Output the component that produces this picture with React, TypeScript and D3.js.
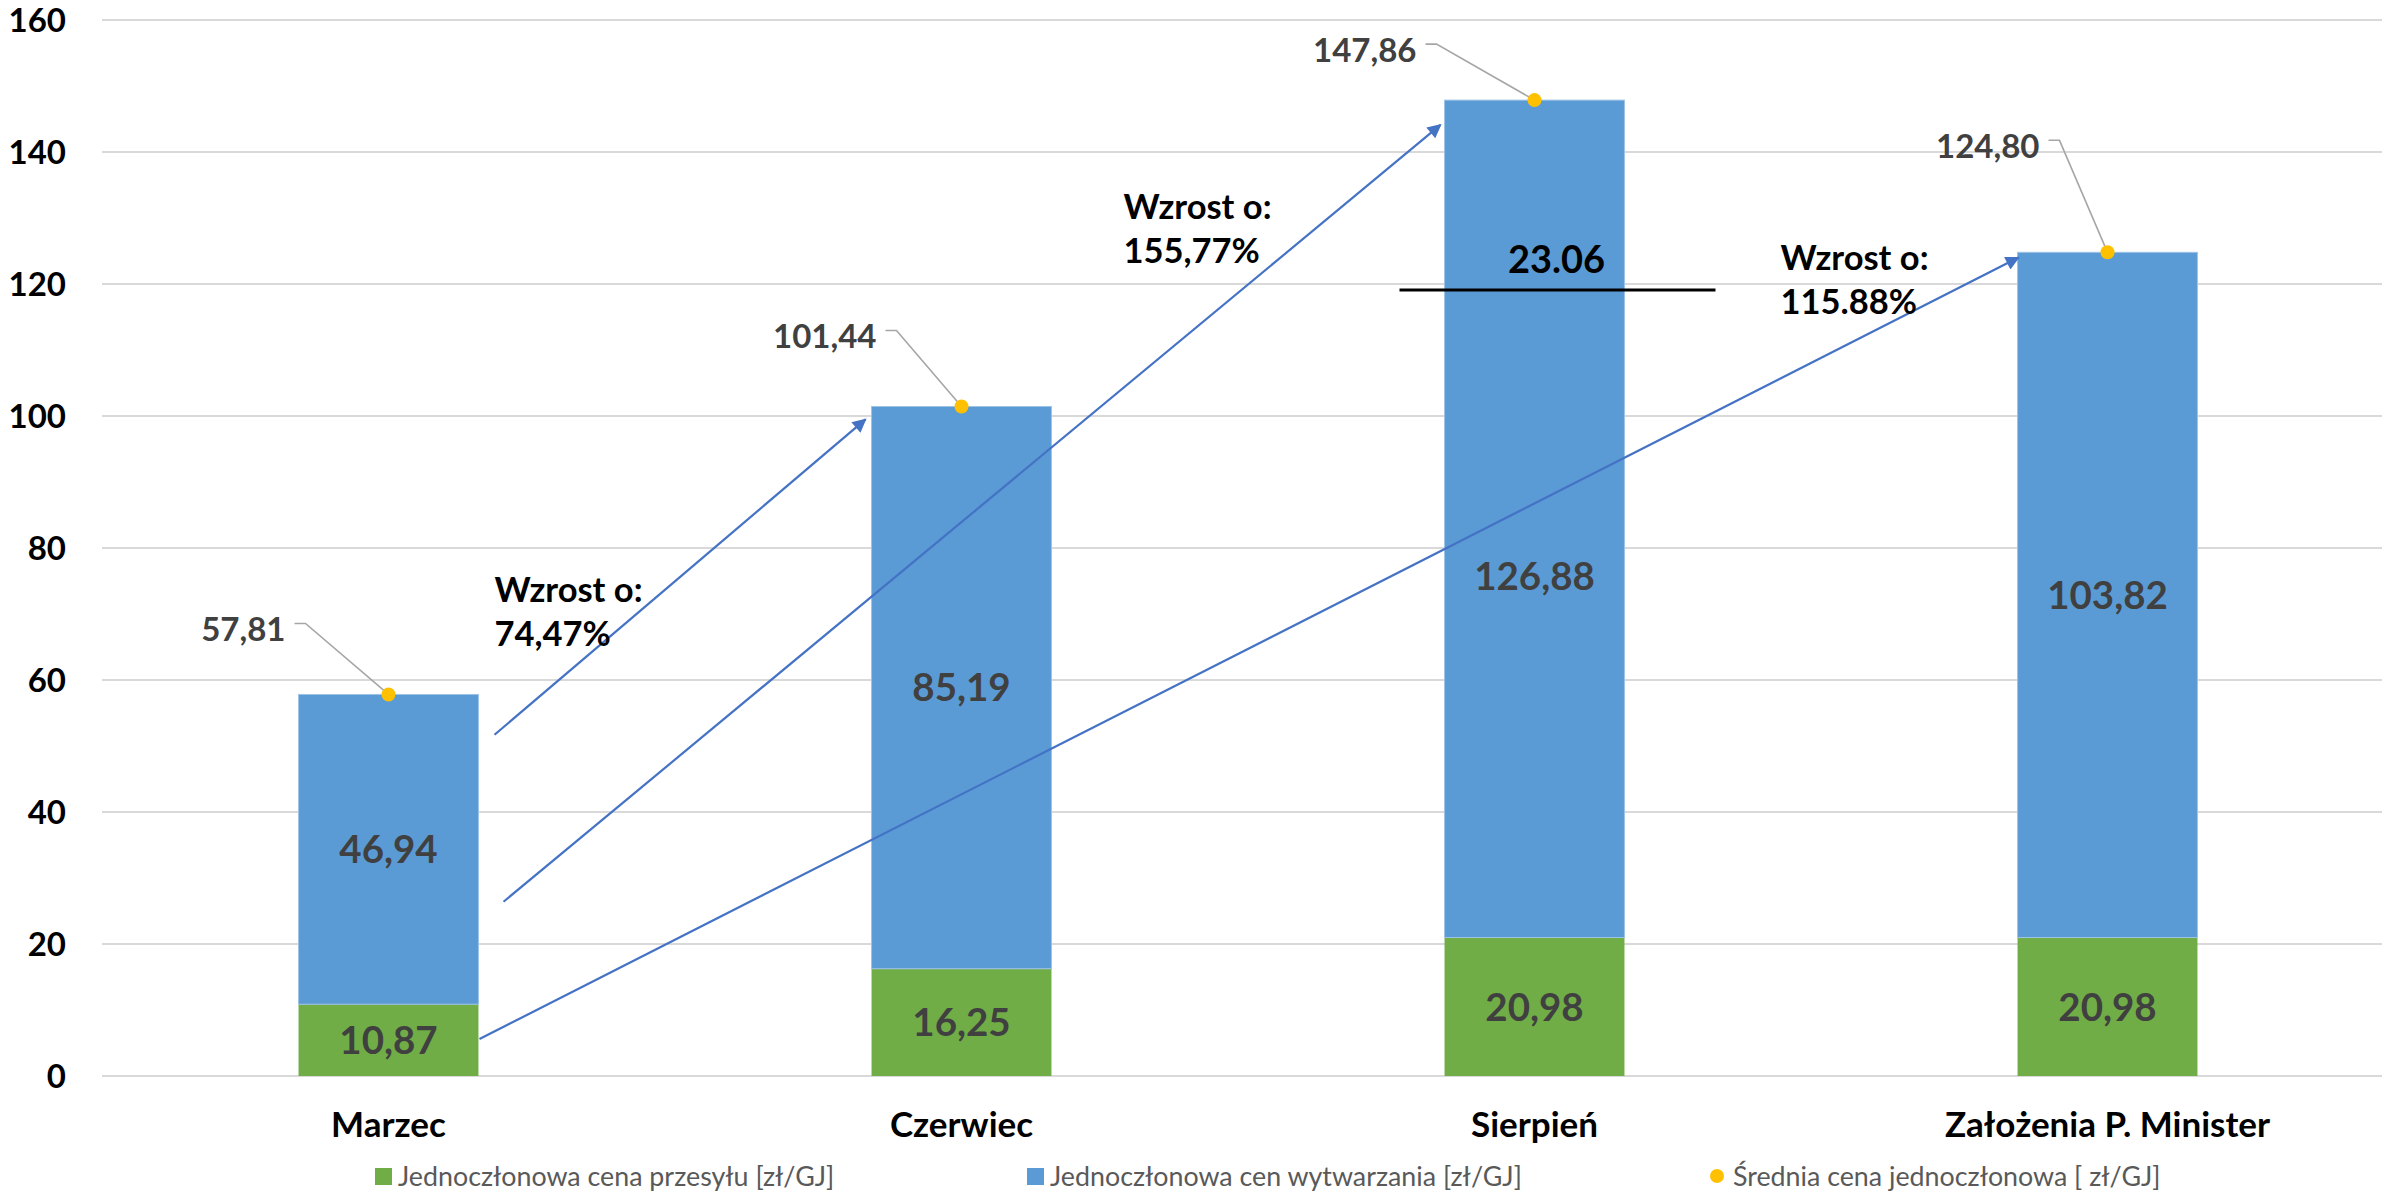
import React from "react";
import * as d3 from "d3";

const width = 2382;
const height = 1192;
const margin = { left: 102, right: -12, top: 20, bottom: 116 }; // plot runs slightly past the right edge
const font = "Lato, 'Open Sans', sans-serif";

const categories = ["Marzec", "Czerwiec", "Sierpień", "Założenia P. Minister"];
const transmission = [10.87, 16.25, 20.98, 20.98]; // green
const production = [46.94, 85.19, 126.88, 103.82]; // blue
const average = [57.81, 101.44, 147.86, 124.8]; // yellow dots
const yTicks = [0, 20, 40, 60, 80, 100, 120, 140, 160];
const legendLabels = [
  "Jednoczłonowa cena przesyłu [zł/GJ]",
  "Jednoczłonowa cen wytwarzania [zł/GJ]",
  "Średnia cena jednoczłonowa [ zł/GJ]",
];
const growthNotes = [
  { cat: 0, value: 71.8, lines: ["Wzrost o:", "74,47%"] },
  { cat: 1, value: 129.8, lines: ["Wzrost o:", "155,77%"] },
  { cat: 2, value: 122.1, lines: ["Wzrost o:", "115.88%"] },
];
const growthArrows = [
  { from: 0, fromValue: 51.7, to: 1, toValue: 99.5 },
  { from: 0, fromValue: 26.4, to: 2, toValue: 144.1 },
  { from: 0, fromValue: 5.6, to: 3, toValue: 124.0 },
];
const markText = "23.06";
const markValue = 119.1;

// manual label placement (px, relative to the dot) as in the source chart
const avgLabelOffset = [
  { dx: -103, dy: -65 },
  { dx: -85, dy: -70 },
  { dx: -118, dy: -50 },
  { dx: -68, dy: -106 },
];
const blueLabelShift = [0, 0, 57, 0]; // the Sierpień label was dragged down
const noteDx = [106, 162, 246];
const arrowDx = [
  [106, -96],
  [115, -94],
  [91, -89],
];

const colors = {
  green: "#70AD47",
  blue: "#5B9BD5",
  dot: "#FFC000",
  grid: "#D9D9D9",
  arrow: "#4472C4",
  label: "#404040",
  legend: "#595959",
};

const fmt = (v: number) => d3.format(".2f")(v).replace(".", ",");

const App = () => {
  const x = d3
    .scaleBand<string>()
    .domain(categories)
    .range([margin.left, width - margin.right])
    .paddingInner(0.686)
    .paddingOuter(0.343);
  const y = d3
    .scaleLinear()
    .domain([0, 160])
    .range([height - margin.bottom, margin.top]);
  const bw = x.bandwidth();
  const cx = (i: number) => (x(categories[i]) as number) + bw / 2;

  const legendX = [375, 1027, 1717];
  const legendY = 1176;

  return (
    <svg
      width={width}
      height={height}
      style={{ position: "absolute", left: 0, top: 0, background: "#fff" }}
      fontFamily={font}
    >
      <defs>
        <marker
          id="arrowHead"
          viewBox="0 0 10 10"
          refX="9"
          refY="5"
          markerWidth="16"
          markerHeight="14"
          markerUnits="userSpaceOnUse"
          orient="auto"
        >
          <path d="M0,0 L10,5 L0,10 z" fill={colors.arrow} />
        </marker>
      </defs>

      {/* grid + y ticks */}
      {yTicks.map((t) => (
        <g key={t}>
          <line
            x1={margin.left}
            x2={width}
            y1={y(t)}
            y2={y(t)}
            stroke={colors.grid}
            strokeWidth={2}
          />
          <text
            x={66}
            y={y(t)}
            dy="0.36em"
            textAnchor="end"
            fontSize={33}
            fontWeight="bold"
            fill="#000"
          >
            {t}
          </text>
        </g>
      ))}

      {/* stacked bars */}
      {categories.map((c, i) => (
        <g key={c}>
          <rect
            x={x(c)}
            y={y(transmission[i])}
            width={bw}
            height={y(0) - y(transmission[i])}
            fill={colors.green}
          />
          <rect
            x={x(c)}
            y={y(transmission[i] + production[i])}
            width={bw}
            height={y(transmission[i]) - y(transmission[i] + production[i])}
            fill={colors.blue}
            stroke="#9DC3E6"
            strokeWidth={1}
          />
          <text
            x={cx(i)}
            y={y(transmission[i] / 2)}
            dy="0.36em"
            textAnchor="middle"
            fontSize={38.5}
            fontWeight="bold"
            fill={colors.label}
          >
            {fmt(transmission[i])}
          </text>
          <text
            x={cx(i)}
            y={y(transmission[i] + production[i] / 2) + blueLabelShift[i]}
            dy="0.36em"
            textAnchor="middle"
            fontSize={38.5}
            fontWeight="bold"
            fill={colors.label}
          >
            {fmt(production[i])}
          </text>
          <text
            x={cx(i)}
            y={1137}
            textAnchor="middle"
            fontSize={35}
            fontWeight="bold"
            fill="#000"
          >
            {c}
          </text>
        </g>
      ))}

      {/* average dots with leader lines */}
      {average.map((v, i) => {
        const px = cx(i);
        const py = y(v);
        const o = avgLabelOffset[i];
        const ly = py + o.dy - 6;
        return (
          <g key={i}>
            <polyline
              points={`${px + o.dx + 9},${ly} ${px + o.dx + 20},${ly} ${px},${py}`}
              fill="none"
              stroke="#A6A6A6"
              strokeWidth={1.6}
            />
            <circle cx={px} cy={py} r={7} fill={colors.dot} />
            <text
              x={px + o.dx}
              y={py + o.dy}
              dy="0.36em"
              textAnchor="end"
              fontSize={33}
              fontWeight="bold"
              fill={colors.label}
            >
              {fmt(v)}
            </text>
          </g>
        );
      })}

      {/* growth arrows */}
      {growthArrows.map((a, i) => (
        <line
          key={i}
          x1={cx(a.from) + arrowDx[i][0]}
          y1={y(a.fromValue)}
          x2={cx(a.to) + arrowDx[i][1]}
          y2={y(a.toValue)}
          stroke={colors.arrow}
          strokeWidth={2.2}
          markerEnd="url(#arrowHead)"
        />
      ))}

      {/* growth notes */}
      {growthNotes.map((n, i) => (
        <text
          key={i}
          x={cx(n.cat) + noteDx[i]}
          y={y(n.value)}
          fontSize={34.5}
          fontWeight="bold"
          fill="#000"
        >
          {n.lines.map((l, j) => (
            <tspan key={j} x={cx(n.cat) + noteDx[i]} dy={j === 0 ? 0 : 44}>
              {l}
            </tspan>
          ))}
        </text>
      ))}

      {/* 23.06 marker on Sierpień */}
      <line
        x1={cx(2) - 135}
        x2={cx(2) + 181}
        y1={y(markValue)}
        y2={y(markValue)}
        stroke="#000"
        strokeWidth={3}
      />
      <text
        x={cx(2) + 22}
        y={y(121.7)}
        textAnchor="middle"
        fontSize={38}
        fontWeight="bold"
        fill="#000"
      >
        {markText}
      </text>

      {/* legend */}
      <rect x={legendX[0]} y={legendY - 8} width={17} height={17} fill={colors.green} />
      <rect x={legendX[1]} y={legendY - 8} width={17} height={17} fill={colors.blue} />
      <circle cx={legendX[2]} cy={legendY} r={7} fill={colors.dot} />
      {legendLabels.map((l, i) => (
        <text
          key={l}
          x={legendX[i] + (i === 2 ? 16 : 23)}
          y={legendY}
          dy="0.36em"
          fontSize={26.8}
          fill={colors.legend}
        >
          {l}
        </text>
      ))}
    </svg>
  );
};

export default App;
